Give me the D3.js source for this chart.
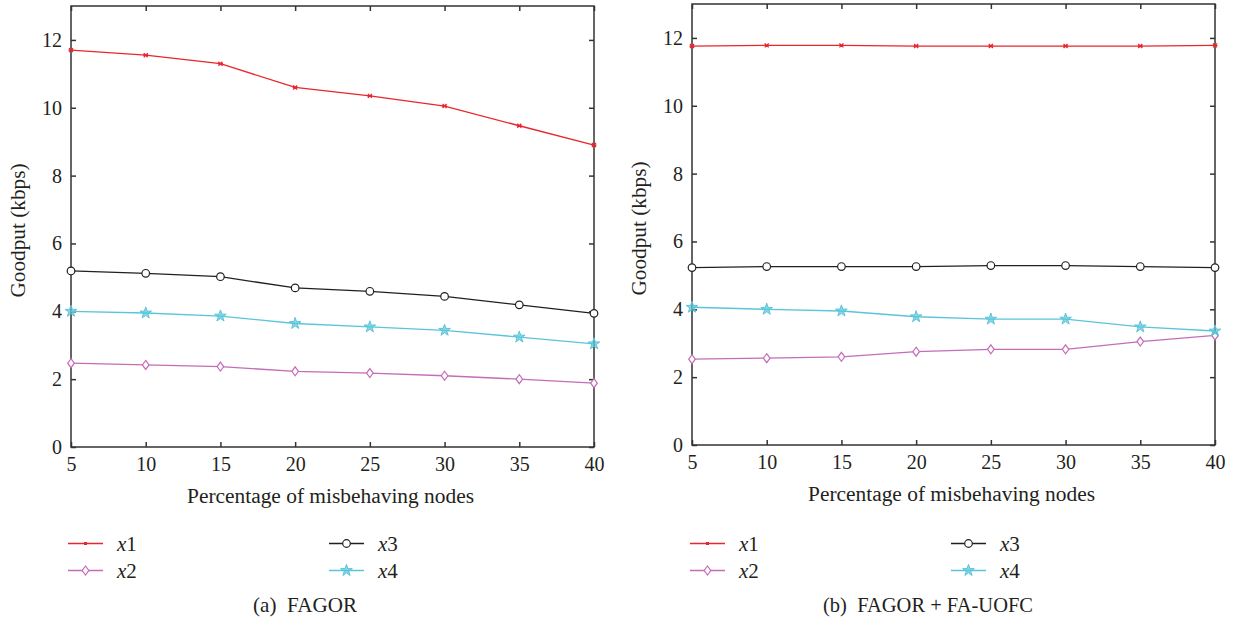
<!DOCTYPE html>
<html>
<head>
<meta charset="utf-8">
<script src="https://cdn.jsdelivr.net/npm/d3@7/dist/d3.min.js"></script>
<style>
  html, body { margin: 0; padding: 0; background: #fff; }
  svg { display: block; }
  svg text { font-family: "Liberation Serif", "DejaVu Serif", serif; fill: #231f20; }
</style>
</head>
<body>
<svg id="chart" width="1233" height="620"></svg>
<script>
// Percentage of misbehaving nodes
const percentages = [5, 10, 15, 20, 25, 30, 35, 40];
const yTicks = [0, 2, 4, 6, 8, 10, 12];
const seriesNames = ["x1", "x2", "x3", "x4"];

// Panel (a): FAGOR
const fagorX1 = [11.70, 11.55, 11.30, 10.60, 10.35, 10.05, 9.47, 8.90];
const fagorX2 = [2.47, 2.42, 2.37, 2.23, 2.18, 2.10, 2.00, 1.88];
const fagorX3 = [5.19, 5.12, 5.02, 4.69, 4.59, 4.44, 4.19, 3.94];
const fagorX4 = [4.00, 3.95, 3.86, 3.64, 3.54, 3.44, 3.24, 3.04];

// Panel (b): FAGOR + FA-UOFC
const uofcX1 = [11.76, 11.78, 11.78, 11.76, 11.76, 11.76, 11.76, 11.78];
const uofcX2 = [2.53, 2.56, 2.60, 2.75, 2.82, 2.82, 3.05, 3.23];
const uofcX3 = [5.23, 5.26, 5.26, 5.26, 5.29, 5.29, 5.26, 5.23];
const uofcX4 = [4.06, 4.00, 3.95, 3.78, 3.71, 3.71, 3.48, 3.36];

const captions = ["(a)  FAGOR", "(b)  FAGOR + FA-UOFC"];
const xTitle = "Percentage of misbehaving nodes";
const yTitle = "Goodput (kbps)";

const colors = { x1: "#e8262d", x2: "#c56cb7", x3: "#231f20", x4: "#5ac5da" };
const markers = { x1: "cross", x2: "diamond", x3: "circle", x4: "star" };
const FONT = "'Liberation Serif', 'DejaVu Serif', serif";

const panels = [
  { left: 71, right: 594, top: 6, bottom: 447, legendX: 68, legendX2: 329,
    caption: captions[0], captionX: 305, captionW: 104,
    series: [fagorX1, fagorX2, fagorX3, fagorX4] },
  { left: 692, right: 1215, top: 4, bottom: 445, legendX: 690, legendX2: 951,
    caption: captions[1], captionX: 928, captionW: 210,
    series: [uofcX1, uofcX2, uofcX3, uofcX4] }
];

const svg = d3.select("#chart");
const axisColor = "#333";

function drawMarker(g, kind, cx, cy, color) {
  if (kind === "cross") {
    g.append("path")
      .attr("d", `M${cx-2},${cy-2}L${cx+2},${cy+2}M${cx-2},${cy+2}L${cx+2},${cy-2}M${cx-2.5},${cy}L${cx+2.5},${cy}`)
      .attr("stroke", color).attr("stroke-width", 1.3).attr("fill", "none");
  } else if (kind === "diamond") {
    g.append("path")
      .attr("d", `M${cx},${cy-4.5}L${cx+3.3},${cy}L${cx},${cy+4.5}L${cx-3.3},${cy}Z`)
      .attr("stroke", color).attr("stroke-width", 1.2).attr("fill", "#fff");
  } else if (kind === "circle") {
    g.append("circle").attr("cx", cx).attr("cy", cy).attr("r", 3.8)
      .attr("stroke", color).attr("stroke-width", 1.2).attr("fill", "#fff");
  } else if (kind === "star") {
    g.append("path")
      .attr("d", d3.symbol().type(d3.symbolStar).size(42)())
      .attr("transform", `translate(${cx},${cy})`)
      .attr("stroke", color).attr("stroke-width", 1).attr("fill", color).attr("fill-opacity", 0.7);
  }
}

panels.forEach(p => {
  const x = d3.scaleLinear().domain([5, 40]).range([p.left, p.right]);
  const y = d3.scaleLinear().domain([0, 13]).range([p.bottom, p.top]);
  const g = svg.append("g");

  // Frame
  g.append("rect")
    .attr("x", p.left).attr("y", p.top)
    .attr("width", p.right - p.left).attr("height", p.bottom - p.top)
    .attr("fill", "none").attr("stroke", axisColor).attr("stroke-width", 1.5);

  // Bottom and left axes with inward ticks
  const xAxis = g.append("g").attr("transform", `translate(0,${p.bottom})`)
    .call(d3.axisBottom(x).tickValues(percentages).tickSize(-5).tickPadding(10).tickFormat(d3.format("d")));
  const yAxis = g.append("g").attr("transform", `translate(${p.left},0)`)
    .call(d3.axisLeft(y).tickValues(yTicks).tickSize(-5).tickPadding(9).tickFormat(d3.format("d")));
  // Mirrored ticks on top and right
  const xTop = g.append("g").attr("transform", `translate(0,${p.top})`)
    .call(d3.axisTop(x).tickValues(percentages).tickSize(-5).tickFormat(""));
  const yRight = g.append("g").attr("transform", `translate(${p.right},0)`)
    .call(d3.axisRight(y).tickValues(yTicks).tickSize(-5).tickFormat(""));

  [xAxis, yAxis, xTop, yRight].forEach(a => {
    a.attr("font-family", FONT).attr("font-size", 20);
    a.select(".domain").remove();
    a.selectAll(".tick line").attr("stroke", axisColor).attr("stroke-width", 1.5);
    a.selectAll(".tick text").attr("fill", "#231f20").attr("font-size", 20);
  });

  // Axis titles
  g.append("text")
    .attr("x", (p.left + p.right) / 2 - 2).attr("y", p.bottom + 56)
    .attr("text-anchor", "middle").attr("font-family", FONT).attr("font-size", 20)
    .attr("textLength", 287).attr("lengthAdjust", "spacingAndGlyphs").text(xTitle);
  g.append("text")
    .attr("transform", `translate(${p.left - 46},${(p.top + p.bottom) / 2 + 4}) rotate(-90)`)
    .attr("text-anchor", "middle").attr("font-family", FONT).attr("font-size", 20)
    .attr("textLength", 134).attr("lengthAdjust", "spacingAndGlyphs").text(yTitle);

  // Series
  const line = d3.line().x((d, i) => x(percentages[i])).y(d => y(d));
  p.series.forEach((vals, si) => {
    const name = seriesNames[si];
    const col = colors[name];
    g.append("path").datum(vals).attr("d", line)
      .attr("fill", "none").attr("stroke", col).attr("stroke-width", 1.3);
    vals.forEach((v, i) => drawMarker(g, markers[name], x(percentages[i]), y(v), col));
  });

  // Legend
  seriesNames.forEach((name, i) => {
    const lx = i < 2 ? p.legendX : p.legendX2;
    const ly = i % 2 === 0 ? 543.5 : 570.5;
    const col = colors[name];
    g.append("line").attr("x1", lx).attr("x2", lx + 35).attr("y1", ly).attr("y2", ly)
      .attr("stroke", col).attr("stroke-width", 1.3);
    if (markers[name] === "cross") {
      g.append("rect").attr("x", lx + 16).attr("y", ly - 1.5).attr("width", 3).attr("height", 3).attr("fill", col);
    } else {
      drawMarker(g, markers[name], lx + 17.5, ly, col);
    }
    const t = g.append("text").attr("x", lx + 49).attr("y", ly + 7)
      .attr("font-family", FONT).attr("font-size", 21);
    t.append("tspan").attr("font-style", "italic").text(name[0]);
    t.append("tspan").text(name.slice(1));
  });

  // Caption
  g.append("text")
    .attr("x", p.captionX).attr("y", 612)
    .attr("text-anchor", "middle").attr("font-family", FONT).attr("font-size", 21)
    .attr("textLength", p.captionW).attr("lengthAdjust", "spacingAndGlyphs")
    .attr("xml:space", "preserve").style("white-space", "pre").text(p.caption);
});
</script>
</body>
</html>
